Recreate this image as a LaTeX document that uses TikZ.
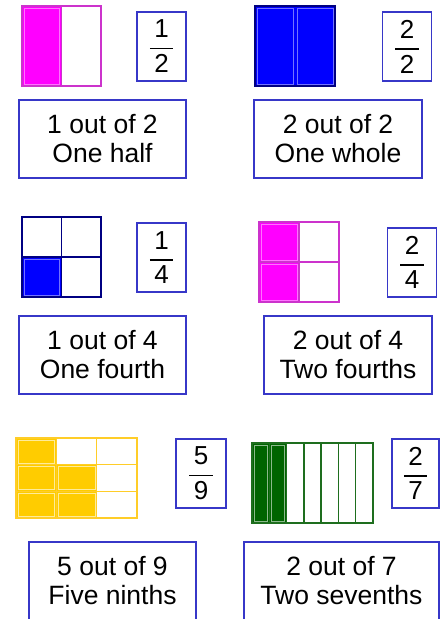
\documentclass[tikz,border=0pt]{standalone}
\usepackage{amsmath}
\usepackage{fontspec}
\setmainfont{Liberation Sans}

\definecolor{boxblue}{RGB}{55,55,200}
\definecolor{magfill}{RGB}{255,0,255}
\definecolor{magline}{RGB}{204,51,204}
\definecolor{bluefill}{RGB}{0,0,255}
\definecolor{navyline}{RGB}{0,0,130}
\definecolor{goldfill}{RGB}{255,204,0}
\definecolor{goldline}{RGB}{255,205,40}
\definecolor{greenfill}{RGB}{0,100,0}
\definecolor{greenline}{RGB}{30,110,30}

\newcommand{\frc}[2]{$\genfrac{}{}{1.8pt}{0}{\text{\,#1\,}}{\text{\,#2\,}}$}

\tikzset{
  wordbox/.style={draw=boxblue, line width=1.5pt, minimum width=167pt, minimum height=78pt,
    inner sep=0pt, align=center, font=\fontsize{26.5}{29}\selectfont},
  fracbox/.style={draw=boxblue, line width=1.5pt, minimum width=49pt, minimum height=69pt,
    inner sep=0pt, font=\fontsize{26}{30}\selectfont},
  gridline/.style={line width=1.5pt},
  innerline/.style={line width=0.6pt}
}

\begin{document}
\begin{tikzpicture}[x=1pt,y=-1pt]
\useasboundingbox (0,0) rectangle (441,619);

% One half
\fill[magfill] (22,6) rectangle (61.5,86);
\draw[innerline,magfill!55!white] (23.8,7.8) rectangle (59.7,84.2);
\draw[gridline,magline] (22,6) rectangle (101,86) (61.5,6) -- (61.5,86);
\node[fracbox] (frhalf) at (161.5,46.5) {\frc{1}{2}};
\node[wordbox] (txhalf) at (102.5,139) {1 out of 2\\One half};

% One whole
\fill[bluefill] (255,6) rectangle (335,86);
\foreach \x in {255,295}
  \draw[innerline,bluefill!55!white] (\x+1.8,7.8) rectangle (\x+38.2,84.2);
\draw[gridline,navyline] (255,6) rectangle (335,86);
\node[fracbox] (frwhole) at (407,46.5) {\frc{2}{2}};
\node[wordbox, minimum width=168pt] (txwhole) at (338,139) {2 out of 2\\One whole};

% One fourth
\fill[bluefill] (22,257) rectangle (61.5,297);
\draw[innerline,bluefill!55!white] (23.8,258.8) rectangle (59.7,295.2);
\draw[gridline,navyline] (22,217) rectangle (101,297) (61.5,217) -- (61.5,297) (22,257) -- (101,257);
\node[fracbox] (frfourth) at (161.5,257.5) {\frc{1}{4}};
\node[wordbox] (txfourth) at (102.5,355) {1 out of 4\\One fourth};

% Two fourths
\fill[magfill] (259,222) rectangle (299,302);
\foreach \y in {222,262}
  \draw[innerline,magfill!55!white] (260.8,\y+1.8) rectangle (297.2,\y+38.2);
\draw[gridline,magline] (259,222) rectangle (339,302) (299,222) -- (299,302) (259,262) -- (339,262);
\node[fracbox] (frfourths) at (412,262.5) {\frc{2}{4}};
\node[wordbox, minimum width=168pt] (txfourths) at (348,355) {2 out of 4\\Two fourths};

% Five ninths
\foreach \c/\r in {0/0,0/1,1/1,0/2,1/2}
{
  \fill[goldfill] ({16+\c*40.33},{438+\r*26.67}) rectangle ++(40.33,26.67);
  \draw[innerline,goldfill!40!white] ({17.8+\c*40.33},{439.8+\r*26.67}) rectangle ++(36.73,23.07);
}
\draw[gridline,goldline] (16,438) rectangle (137,518);
\foreach \c in {1,2}
  \draw[gridline,goldline] ({16+\c*40.33},438) -- ({16+\c*40.33},518);
\foreach \r in {1,2}
  \draw[gridline,goldline] (16,{438+\r*26.67}) -- (137,{438+\r*26.67});
\node[fracbox, minimum width=50pt] (frninths) at (201,473.5) {\frc{5}{9}};
\node[wordbox] (txninths) at (112.5,581) {5 out of 9\\Five ninths};

% Two sevenths
\foreach \c in {0,1}
{
  \fill[greenfill] ({252+\c*17.29},443) rectangle ++(17.29,80);
  \draw[innerline,greenfill!45!white] ({253.8+\c*17.29},444.8) rectangle ++(13.69,76.4);
}
\draw[gridline,greenline] (252,443) rectangle (373,523);
\foreach \c in {1,...,6}
  \draw[gridline,greenline] ({252+\c*17.29},443) -- ({252+\c*17.29},523);
\node[fracbox, minimum width=47pt] (frsevenths) at (415.5,473.5) {\frc{2}{7}};
\node[wordbox, minimum width=195pt] (txsevenths) at (341.5,581) {2 out of 7\\Two sevenths};

\end{tikzpicture}
\end{document}
